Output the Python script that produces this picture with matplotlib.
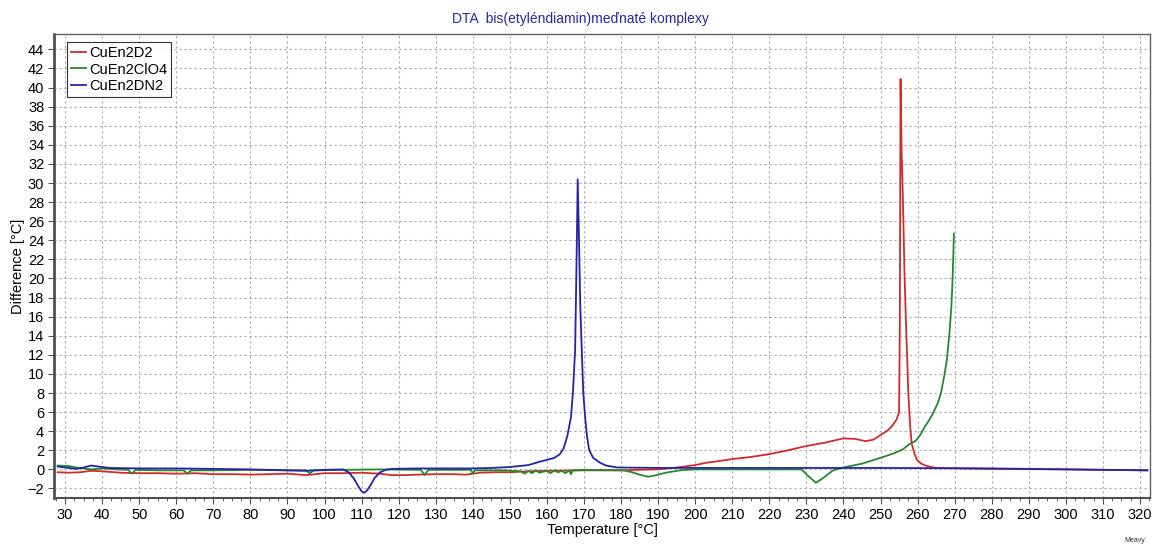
import matplotlib
matplotlib.use("Agg")
import matplotlib.pyplot as plt
from matplotlib.ticker import MultipleLocator

plt.rcParams['font.family'] = ['Liberation Sans', 'DejaVu Sans']

# --- DTA curves: temperature [°C] vs. temperature difference [°C] ---
t_d2 = [28, 31, 34, 37, 40, 45, 50, 55, 60, 65, 70, 75, 80, 85, 90, 95, 100, 105, 110,
        115, 118, 122, 125, 130, 135, 138, 142, 146, 150, 155, 160, 170, 180, 190, 195,
        200, 203, 206, 210, 215, 220, 225, 230, 235, 240, 243, 246, 248, 250, 252, 253,
        254.3, 255.0, 255.2, 255.4, 255.7, 256.0, 256.5, 256.9, 257.5, 258.0, 258.4,
        259.2, 259.8, 261, 262.5, 265, 280, 300, 322]
d_d2 = [-0.3, -0.35, -0.3, -0.15, -0.2, -0.35, -0.4, -0.4, -0.45, -0.4, -0.5, -0.5,
        -0.55, -0.5, -0.45, -0.6, -0.4, -0.4, -0.35, -0.45, -0.6, -0.6, -0.55, -0.5,
        -0.5, -0.55, -0.35, -0.3, -0.3, -0.2, -0.15, -0.1, -0.1, 0.0, 0.2,
        0.45, 0.7, 0.85, 1.08, 1.3, 1.6, 2.0, 2.45, 2.8, 3.25, 3.2, 2.96, 3.1, 3.6, 4.1, 4.5,
        5.2, 6.0, 15.0, 40.9, 33.0, 28.9, 20.0, 14.9, 8.0, 4.5, 2.7,
        1.6, 1.0, 0.6, 0.35, 0.15, 0.05, 0.0, -0.1]

t_clo4 = [28, 31, 33, 35, 37, 40, 44, 47, 48, 49, 55, 62, 63, 64, 70, 80, 90, 95, 96, 97,
          105, 115, 126, 127, 128, 135, 139.5, 140, 140.5, 148, 153, 154, 155, 156, 157, 158,
          160, 161, 162, 163, 164, 165, 166, 166.5, 167, 170, 180.6, 183, 185, 187.3,
          189, 192, 195.9, 200, 210, 220, 228.7, 230.5, 232.6, 234.5, 237.2, 240, 245,
          250.7, 253.7, 256, 258, 259.5, 260.7, 262, 263.2, 264.3, 265.5, 266.3, 267.2,
          267.9, 268.6, 269.1, 269.4, 269.6, 269.8]
d_clo4 = [0.4, 0.35, 0.2, 0.1, 0.0, 0.1, 0.0, -0.05, -0.45, -0.05, -0.1, -0.1, -0.45,
          -0.1, -0.1, -0.05, -0.1, -0.1, -0.45, -0.1, -0.05, 0.0, -0.05, -0.6, -0.05,
          -0.05, -0.05, -0.45, -0.1, -0.1, -0.2, -0.45, -0.15, -0.4, -0.1, -0.35,
          -0.15, -0.4, -0.1, -0.3, -0.15, -0.4, -0.1, -0.5, -0.1, -0.05, -0.1, -0.3, -0.55, -0.77,
          -0.65, -0.35, -0.1, 0.0, 0.0, 0.0, 0.0, -0.7, -1.4, -0.9, -0.1, 0.2, 0.6,
          1.3, 1.7, 2.1, 2.7, 3.0, 3.6, 4.5, 5.2, 6.0, 7.0, 8.0, 9.8,
          11.5, 14.3, 17.0, 19.5, 22.0, 24.7]

t_dn2 = [28, 30, 33, 35, 37, 39, 42, 50, 60, 70, 80, 90, 95, 100, 105, 106.5, 108, 109,
         110, 110.7, 111.5, 112.5, 113.5, 115, 116.5, 118, 125, 140, 145, 150, 155, 158,
         160, 162, 163.5, 164.5, 165.5, 166.5, 167.0, 167.6, 168.0, 168.3, 168.6, 169.0,
         169.4, 169.8, 170.3, 170.8, 171.4, 172.5, 174.3, 176, 179, 190, 200, 250,
         280, 300, 322]
d_dn2 = [0.3, 0.2, 0.05, 0.2, 0.4, 0.3, 0.15, 0.1, 0.1, 0.05, 0.0, -0.1, -0.15, -0.05,
         0.0, -0.3, -1.0, -1.7, -2.3, -2.45, -2.2, -1.6, -0.9, -0.3, -0.05, 0.05, 0.1,
         0.1, 0.15, 0.25, 0.45, 0.8, 1.0, 1.2, 1.6, 2.2, 3.5, 5.5, 8.0, 12.5, 22.0, 30.4,
         25.0, 17.0, 12.5, 8.0, 5.5, 3.5, 2.0, 1.2, 0.7, 0.4, 0.2, 0.15, 0.15, 0.15,
         0.1, 0.0, -0.1]

series_names = ["CuEn2D2", "CuEn2ClO4", "CuEn2DN2"]
series_colors = ["#d42a2a", "#228a2c", "#2424a8"]

fig = plt.figure(figsize=(11.53, 5.5), dpi=100)
ax = fig.add_axes([0.0468, 0.0945, 0.9506, 0.8435])

for (t, d), name, col in zip([(t_d2, d_d2), (t_clo4, d_clo4), (t_dn2, d_dn2)],
                             series_names, series_colors):
    ax.plot(t, d, color=col, lw=1.3, label=name)

ax.set_xlim(27.0, 322.7)
ax.set_ylim(-3.0, 45.6)
ax.xaxis.set_major_locator(MultipleLocator(10))
ax.xaxis.set_minor_locator(MultipleLocator(2.5))
ax.yaxis.set_major_locator(MultipleLocator(2))
ax.grid(True, which='major', color='#a8a8a8', linestyle=(0, (2, 2.5)), linewidth=0.8)
ax.tick_params(axis='both', which='major', labelsize=10.5, length=4, width=0.8,
               colors='#505050', labelcolor='black', pad=3)
ax.tick_params(axis='x', which='minor', length=2, width=0.6, colors='#505050')

for side in ['top', 'right']:
    ax.spines[side].set_color('#606060')
    ax.spines[side].set_linewidth(1.0)
ax.spines['left'].set_color('#505050')
ax.spines['left'].set_linewidth(2.0)
ax.spines['bottom'].set_color('#505050')
ax.spines['bottom'].set_linewidth(1.5)

ax.set_xlabel("Temperature [°C]", fontsize=10.5, labelpad=1)
ax.set_ylabel("Difference [°C]", fontsize=10.5, labelpad=2)
fig.text(0.503, 0.965, "DTA  bis(etyléndiamin)meďnaté komplexy", ha='center',
         va='center', fontsize=10, color='#2828a0')
fig.text(0.984, 0.01, "Meavy", ha='center', va='bottom', fontsize=5, color='#333333')

leg = ax.legend(loc='upper left', bbox_to_anchor=(0.012, 0.983), fontsize=10.5,
                frameon=True, fancybox=False, handlelength=1.0, handletextpad=0.2,
                borderpad=0.3, labelspacing=0.15, borderaxespad=0)
leg.get_frame().set_edgecolor('black')
leg.get_frame().set_linewidth(0.8)

fig.savefig("out.png", dpi=100)
